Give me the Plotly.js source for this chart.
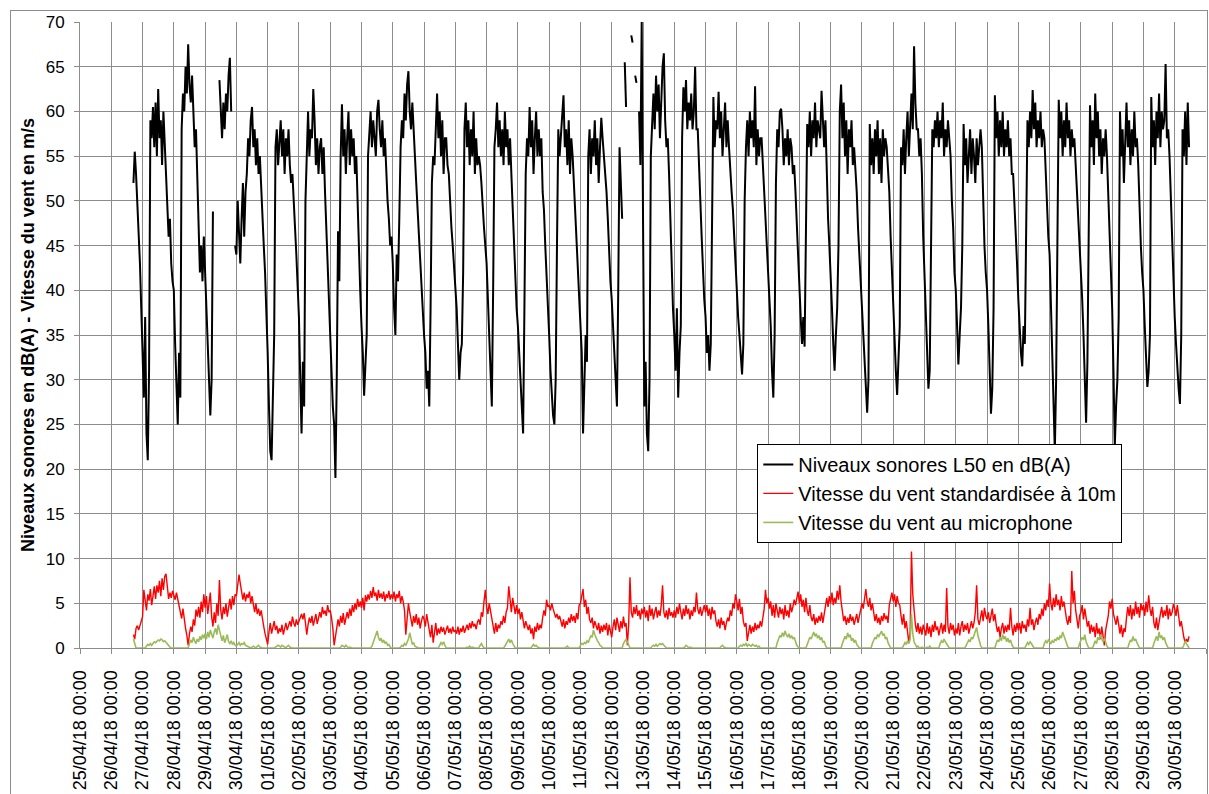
<!DOCTYPE html>
<html>
<head>
<meta charset="utf-8">
<script src="https://cdn.plot.ly/plotly-3.0.1.min.js"></script>
<style>
  html, body { margin: 0; padding: 0; background: #fff; }
  #wrap { position: relative; width: 1209px; height: 794px; overflow: hidden; }
  #chart { position: absolute; left: 0; top: 0; width: 1209px; height: 794px; }
  #frame { position: absolute; left: 10px; top: 10px; width: 1196px; height: 800px;
           border: 1px solid #8c8c8c; pointer-events: none; }
</style>
</head>
<body>
<div id="wrap"><div id="chart"></div><div id="frame"></div></div>
<script>
// ---- data: hourly readings, first value = 26/04/18 17:00 ----
const seriesStart = "2018-04-26T17:00:00Z";
const seriesNames = [
  "Niveaux sonores L50 en dB(A)",
  "Vitesse du vent standardisée à 10m",
  "Vitesse du vent au microphone"
];
const xTickFormat = "%d/%m/%y %H:%M";

// Niveaux sonores L50 en dB(A)
const l50 = [
  52,55.5,53,50,47,43,38,                                                            // 26/04 17-23h
  34,28,37,24,21,31,59,57,60.5,56,61,55,62.5,57,59,54,60,56,54,50,46,48,43,41,        // 27/04
  40,34,29,25,33,28,58,62,60,65,62,67.5,63,61,64,59,56,58,52,47,42,45,41,46,          // 28/04
  42,37,35,29,26,30,48.8,null,null,null,null,63.5,60,57,61,58,62,60,64,66,60,null,null,45, // 29/04
  44,50,47,43,48,52,46,51,53,57,55,59,60.5,56,58,54,57,53,55,51,47,45,42,38,          // 30/04
  33,27,22,21,29,35,56,58,54,57,59,55,58,53,57,55,58,54,52,53,49,47,44,41,            // 01/05
  37,30,24,32,27,50,56,60,55,58,57,62.5,59,54,57,53,56,57,53,56,51,47,42,38,          // 02/05
  36,32,27,25,19,30,46.6,41,55,60.8,55,58,53,57,60,54,58,55,57,53,55,50,44,40,        // 03/05
  36,33,28.2,31,35,55,57,60,56,59,57,55,60,61.3,58,56,59,55,57,53,50,48,45,46,        // 04/05
  43,38,35,44,41,48,56,59,57,62,59,63,64.5,60,58,61,57,55,52,49,46,44,40,38,          // 05/05
  35,33,29,31,27,38,52,55,54,58,62,57,60,55,59,53,57,57,54,53,49,47,45,43,            // 06/05
  40,38,34,30,33,34,42,58,61,56,59,54,58,55,60,53,57,54,55,54,52,49,47,45,            // 07/05
  43,39,35,31,27,40,56,58,61,56,59,55,58,54,60,56,58,54,57,53,49,45,41,38,            // 08/05
  36,33,29,27,24,38,53,57,55,60.5,56,59,53,57,60,55,58,55,57,51,49,45,42,39,          // 09/05
  35,31,28,26,25,30,45,58,55,57,60,61.8,56,58,54,59,53,57,55,52,49,46,43,40,          // 10/05
  37,33,24,29,35,32,55,58,53,57,55,59,54,57,52,56,59.3,57,55,54,51,48,44,41,          // 11/05
  39,36,33,30,27,40,56,52,48,null,65.5,60.5,null,null,null,68.5,67.7,null,64,63.2,null,60,54,70, // 12/05
  40,27,32,24,22,30,55,59,62,58,64,60,63,57,61,65,66.5,59,56,57,53,48,42,38,          // 13/05
  35,31,38,28,33,36,57,62.7,60,63.5,58,61,59,62,58,60,65,58,58,53,50,46,42,39,        // 14/05
  37,33,35,31,34,45,61.6,56,59,58,62.2,57,60,55,58,61,56,59,56,53,51,49,46,42,        // 15/05
  40,37,35,32,30.6,34,50,56,59,55,60,57,59,56,62.8,54,58,55,57,57,54,52,49,46,        // 16/05
  43,40,36,31,28,35,52,58,56,60,60.3,58,54,57,55,58,54,57,56,53,54,51,47,44,          // 17/05
  40,37,34,37,33.7,50,58.6,56,60,55,59,57,61,56,59,58,57,62.3,58,56,59,53,48,45,      // 18/05
  42,38,34,31,35,38,45,60,63,57,61,55,59,53,58,56,59,54,56,54,51,47,44,41,            // 19/05
  38,35,31,29,26.3,30,58.6,54,57,53,58,55,59,53,57,52,58,55,57,56,54,51,46,42,        // 20/05
  39,35,31,28.3,33,36,56,54,58,53,57,60,55,59,62,58,67.3,61,58,58,55,57,53,46,        // 21/05
  42,37,33,29,31,45,58,56,59,57,60,56,59,57,61,55,58,56,59,57,55,50,47,42,            // 22/05
  40,36,31.7,35,38,45,58.6,54,57,52,56,58,53,57,55,52,57,54,56,58,56,50,45,42,        // 23/05
  40,36,31,26.2,29,38,61.8,57,60,55,59,56,60,55,58,56,59,55,57,53,53,50,47,43,        // 24/05
  39,35,33,31.5,36,34,50,59,56,60,57,62.4,58,61,56,59,57,60,56,58,57,53,50,46,        // 25/05
  44,38,33,27,22,30,48,61.3,57,60,55,59,56,61,57,59,55,58,56,57,54,51,48,45,          // 26/05
  43,39,35,30,25.2,32,45,60.7,56,59,54,62,57,60,55,58,53,57,55,58,55,51,47,42,        // 27/05
  38,31,22.5,27,30,37,60,55,58,52,57,61,56,59,54,58,55,60,56,57,54,49,45,42,          // 28/05
  40,36,33,29.2,31,35,61.6,56,59,54,60,57,62,56,60,58,59,65.3,57,58,55,50,45,40,      // 29/05
  37,34,31,29,27.3,35,58,55,60,54,61,56                                               // 30/05 0-11h
];

// Vitesse du vent standardisée à 10m (m/s)
const windStd = [
  1.5,1.0,2.2,2.5,2.0,2.5,3.2,
  3.5,6.5,5.0,4.2,6.0,5.3,6.6,4.8,5.8,6.9,5.5,7.0,6.2,7.5,5.8,7.8,6.5,8.0,8.3,6.8,5.5,6.2,5.6,6.4,
  6.0,5.4,6.2,5.5,4.6,4.0,3.3,4.4,3.0,2.2,1.4,0.3,1.6,2.4,1.8,3.2,2.5,4.3,3.5,4.6,3.4,5.2,4.0,6.0,
  4.5,5.8,3.8,5.2,6.2,3.5,2.4,4.0,2.8,5.0,3.6,7.6,4.2,3.2,4.6,3.8,5.0,3.5,4.4,5.5,4.3,5.8,4.8,6.0,
  5.8,7.0,8.2,7.2,6.4,5.4,6.2,5.2,6.0,5.6,6.3,5.0,5.8,4.6,4.0,5.0,3.8,4.4,3.6,4.2,3.0,2.4,1.6,1.0,
  0.4,1.8,2.8,1.6,2.4,3.0,2.0,2.5,1.6,2.2,1.8,2.6,1.5,2.3,2.8,2.0,2.6,3.0,2.4,3.5,2.8,2.4,3.2,2.6,
  3.0,3.4,3.8,3.2,3.9,2.8,1.5,2.6,3.4,2.8,3.6,2.5,3.2,3.8,2.7,3.3,4.0,3.4,4.6,3.8,4.2,3.6,4.8,4.0,
  4.2,3.4,2.2,0.3,1.5,2.4,3.2,2.4,3.6,2.8,3.9,2.6,3.4,4.0,3.3,4.4,3.6,4.8,4.0,5.0,4.3,5.5,4.6,5.2,
  4.5,5.6,4.2,5.9,5.2,6.0,5.4,6.4,5.6,6.8,5.8,6.2,5.3,6.5,5.6,6.1,5.5,6.3,5.2,6.0,5.6,6.4,5.4,6.0,
  5.5,6.3,5.2,6.0,5.6,6.4,5.0,5.8,5.2,4.2,1.5,3.6,5.0,4.0,3.2,2.4,3.6,2.8,3.8,2.6,3.4,2.2,3.0,3.6,
  3.2,2.4,3.8,2.6,2.0,1.2,2.6,0.6,1.8,2.8,1.4,2.2,1.6,2.4,1.8,2.3,1.5,2.1,2.5,1.7,2.2,1.6,2.4,1.8,
  2.0,1.6,2.4,1.5,2.2,1.8,2.5,1.7,2.3,2.6,2.0,2.8,2.2,3.0,2.4,2.7,2.1,2.9,3.2,2.6,4.0,3.5,5.2,6.5,
  4.6,3.8,5.0,4.2,3.6,2.4,1.6,2.8,1.8,2.6,2.2,3.0,2.6,3.6,2.8,4.0,4.5,6.9,5.2,4.0,5.6,4.4,3.8,4.8,
  3.8,4.4,3.2,4.0,2.8,2.2,3.0,2.4,2.0,2.6,1.6,2.2,1.0,2.4,1.8,2.8,2.0,2.6,2.2,3.4,4.2,3.6,5.4,4.6,
  4.8,4.2,5.0,4.4,4.0,3.4,3.8,3.2,3.6,3.0,2.4,3.2,2.2,3.0,2.6,3.4,2.8,3.8,3.0,3.6,2.8,3.9,3.2,4.8,
  5.0,5.8,6.6,4.6,5.4,3.8,4.6,3.2,2.8,3.4,2.2,3.0,2.4,2.0,2.8,1.6,2.5,1.8,2.6,2.0,2.8,1.4,2.6,1.8,
  1.2,2.4,3.2,2.0,3.4,2.6,1.8,3.0,2.2,3.5,2.4,2.8,0.3,2.6,7.9,4.0,3.4,4.6,3.8,4.8,3.6,4.2,3.2,4.4,
  3.8,4.6,3.4,4.2,3.0,4.8,3.6,4.4,3.2,4.0,4.6,3.4,4.2,3.6,4.8,7.0,4.0,3.4,4.2,3.2,4.5,3.6,4.0,3.4,
  4.2,3.4,4.6,3.8,5.0,4.0,3.2,4.4,3.6,4.8,3.8,4.4,3.2,4.2,3.6,4.6,4.0,6.2,4.4,3.8,4.6,3.6,4.2,4.8,
  4.0,4.8,3.6,4.4,3.2,4.6,3.8,4.2,3.0,2.4,3.2,2.2,3.4,2.6,3.0,2.0,2.8,3.4,3.0,4.2,3.6,5.0,4.4,6.0,
  5.2,4.2,5.5,3.8,4.6,3.0,2.4,2.8,0.8,2.0,2.6,1.6,2.4,1.8,2.8,2.0,2.6,2.2,3.0,2.4,3.6,4.4,6.5,5.0,
  5.6,4.4,5.2,3.6,4.8,3.4,5.0,4.0,3.4,4.6,3.8,4.4,3.2,4.8,3.6,4.2,3.4,5.0,4.0,4.6,5.4,4.8,5.8,6.3,
  5.0,6.0,4.6,5.4,4.0,5.6,4.2,3.6,4.8,3.4,3.0,3.8,2.6,3.4,2.8,3.6,3.0,4.0,2.8,3.6,4.4,5.6,4.6,5.8,
  5.0,6.2,4.8,5.6,5.0,6.4,5.4,7.0,5.2,3.8,3.0,3.6,2.6,3.4,2.8,3.8,3.0,3.5,2.6,3.2,3.8,2.8,3.6,4.4,
  5.0,4.4,5.8,6.6,5.2,4.6,5.6,4.2,5.0,3.6,3.0,3.8,2.8,3.4,2.6,3.6,3.0,3.9,3.2,3.6,2.8,4.8,5.6,6.2,
  5.2,6.0,4.6,5.8,5.0,4.8,3.6,2.6,3.8,2.2,3.0,1.6,0.6,1.8,10.8,6.0,4.2,2.6,1.8,2.8,1.6,2.4,1.5,2.6,
  2.0,1.4,2.8,1.6,2.4,1.2,2.6,1.8,3.0,2.0,2.4,1.4,2.2,2.8,1.6,2.6,1.8,6.7,2.4,1.6,2.8,2.0,2.6,1.4,
  2.2,1.6,2.8,1.4,2.4,3.0,1.8,2.6,2.0,2.8,1.6,2.4,3.0,2.2,2.8,4.0,7.0,3.2,2.6,3.4,4.2,3.0,4.5,3.6,
  3.2,4.0,2.8,3.6,4.4,3.0,3.8,2.6,1.8,2.4,1.2,2.2,2.8,1.6,2.5,1.8,2.6,2.0,4.5,2.4,1.4,2.6,1.8,2.8,
  2.0,2.8,1.6,3.0,2.2,2.6,1.8,3.2,2.4,4.5,2.6,3.2,2.0,2.8,3.4,2.6,3.8,3.2,4.4,3.6,5.0,4.2,5.4,4.6,
  7.2,5.0,4.2,5.6,4.6,6.0,4.8,5.4,4.2,5.8,4.6,5.2,4.0,3.2,2.6,3.6,2.8,8.6,5.0,6.4,4.2,3.0,2.2,3.6,
  4.0,4.8,3.2,4.4,3.6,2.4,3.0,1.6,2.6,1.8,2.4,1.2,2.8,1.6,2.2,1.0,2.4,1.4,0.3,2.0,2.8,3.6,5.2,4.4,
  5.5,3.8,3.2,2.6,3.6,2.8,1.6,2.6,1.2,2.2,1.8,3.4,4.6,3.6,4.8,3.2,4.4,3.6,5.2,3.8,4.6,3.4,5.0,4.2,
  4.8,3.6,5.2,4.0,5.9,4.4,3.6,4.6,2.8,2.2,3.4,2.0,3.2,3.8,4.6,3.4,4.2,3.6,4.8,3.2,4.4,3.6,4.0,4.9,
  4.4,3.6,4.8,3.2,2.4,3.0,2.0,1.2,0.6,1.0,0.7,1.3
];

// Vitesse du vent au microphone (m/s)
const windMic = [
  1.0,0.4,0,0,0,0,0,
  0,0,0,0.2,0.4,0.3,0.5,0.3,0.5,0.7,0.6,0.8,0.9,0.8,1.0,0.9,0.7,0.8,0.6,0.4,0.3,0.1,0,0,
  0,0,0,0,0,0,0,0,0,0,0,0,0.5,0.9,0.6,1.2,0.8,0.5,1.0,0.7,1.3,0.9,1.5,1.1,
  1.6,1.0,1.8,1.2,2.0,1.4,1.1,1.8,2.2,1.5,2.6,2.0,1.2,0.8,1.4,0.6,1.0,1.5,0.7,0.5,0.8,0.4,0.6,0.3,
  0.2,0.4,0.6,0.3,0.5,0.4,0.6,0.3,0.2,0.1,0,0,0.1,0.2,0.1,0,0.2,0.3,0.1,0,0,0,0,0,
  0,0,0,0,0,0,0.1,0.2,0.3,0.2,0.1,0.3,0.2,0.1,0,0.2,0.3,0.1,0,0,0,0,0,0,
  0,0,0,0,0,0,0,0,0,0,0,0,0,0,0,0,0,0,0,0,0,0,0,0,
  0,0,0,0,0,0,0,0,0.1,0.3,0.2,0.1,0.3,0.2,0,0.1,0,0,0,0,0,0,0,0,
  0,0,0,0,0,0,0,0,0.2,0.6,1.0,1.4,1.9,1.2,0.8,1.1,0.6,0.9,0.5,0.7,0.3,0.4,0.1,0,
  0,0,0,0,0,0,0.1,0.3,0.2,0.5,0.3,0.6,1.0,1.7,0.9,0.4,0.6,0.2,0.1,0,0,0,0,0,
  0,0,0,0,0,0,0,0,0,0,0,0,0.3,0.6,0.4,0.7,0.3,0,0,0,0,0,0,0,
  0,0,0,0,0,0,0,0,0,0.1,0,0.2,0,0.1,0,0,0,0,0,0.3,0.5,0.2,0,0,
  0,0,0,0,0,0,0,0,0,0,0,0,0,0,0.2,0.5,0.8,1.0,0.6,0.9,0.5,0.2,0,0,
  0,0,0,0,0,0,0,0,0,0,0,0.2,0.4,0.2,0.3,0.1,0,0,0,0,0,0,0,0,
  0,0,0,0,0,0,0,0,0,0,0,0,0,0.1,0.2,0,0,0,0,0,0,0,0,0,
  0.3,0.5,0.4,0.6,0.5,0.8,0.6,1.0,1.4,1.2,2.0,1.5,1.1,0.8,0.6,0.3,0.2,0,0,0,0,0,0,0,
  0,0,0,0,0,0,0,0,0,0.5,0.8,1.0,0.7,0.4,0,0,0,0,0,0,0,0,0,0,
  0,0,0,0,0,0,0,0.2,0.3,0.2,0.4,0.2,0.3,0.5,0.4,0.5,0.3,0.1,0,0,0,0,0,0,
  0,0,0,0,0,0,0,0,0.1,0.3,0.2,0,0.1,0,0,0,0,0,0,0,0,0,0,0,
  0,0,0,0,0,0,0,0,0,0,0,0,0.2,0.3,0.1,0,0,0,0,0,0,0,0,0,
  0,0,0.2,0.3,0.2,0.4,0.3,0.5,0.2,0.4,0.3,0.2,0.4,0.3,0.2,0.3,0.1,0.2,0,0,0,0,0,0,
  0,0,0,0,0,0,0,0.6,1.0,1.4,1.2,1.7,1.3,1.9,1.5,1.2,1.6,1.1,1.4,1.0,1.2,0.6,0.3,0.1,
  0,0,0,0,0,0,0.4,0.8,1.2,1.0,1.5,1.8,1.3,1.6,1.1,1.4,0.9,1.2,0.6,0.8,0.3,0,0,0,
  0,0,0,0,0,0,0,0,0,0.5,0.9,1.3,1.0,1.7,1.2,1.5,0.8,1.1,0.6,0.9,0.4,0.2,0,0,
  0,0,0,0,0,0,0,0,0.5,0.8,1.2,1.0,1.5,1.3,1.7,1.9,1.4,1.6,1.0,1.2,0.6,0.3,0,0,
  0,0,0,0,0,0,0,0,0.3,0.6,0.4,0.8,0.5,1.0,3.8,1.6,0.7,0.3,0.1,0.2,0,0,0.1,0,
  0,0,0.1,0,0.2,0,0,0,0,0,0,0,0.5,0.8,0.6,1.0,0.7,0.5,0.2,0,0,0,0,0,
  0,0,0,0,0,0,0,0,0.3,0.6,0.9,0.7,1.2,1.0,1.5,1.8,2.3,1.4,0.8,0.3,0,0,0,0,
  0,0,0,0,0,0,0,0.5,0.9,0.7,1.2,0.8,1.5,1.0,1.3,0.7,1.1,0.6,0.9,0.4,0.1,0,0,0,
  0,0,0,0,0,0,0.3,0.6,0.4,0.7,0.5,0.3,0,0,0,0,0,0,0,0,0.5,0.8,0.6,0.9,
  0.7,0.5,0.8,0.6,1.0,0.8,1.2,0.9,1.4,1.1,1.8,1.3,0.9,0.4,0.1,0,0,0,0,0,0,0,0,0.5,
  0.8,1.2,0.9,1.5,0.7,0.3,0,0,0,0,0.4,0.8,0.5,1.2,0.9,1.5,1.0,0.7,1.1,0.5,0.2,0,0,0,
  0,0,0,0,0,0,0,0,0,0,0,0,0,0.5,0.9,0.7,1.3,0.8,1.0,0.6,0.3,0,0,0,
  0,0,0,0,0,0,0,0,0.5,0.9,1.3,0.8,1.8,1.1,1.4,0.9,1.2,0.6,0.3,0,0,0,0,0,
  0,0,0,0,0,0,0,0.3,0.8,0.5,0.3,0
];

// ---- time axis built from the start stamp (one reading per hour) ----
function pad(n) { return (n < 10 ? "0" : "") + n; }
function hourlyStamps(startIso, count) {
  const t0 = Date.parse(startIso);
  const out = [];
  for (let i = 0; i < count; i++) {
    const d = new Date(t0 + i * 3600000);
    out.push(d.getUTCFullYear() + "-" + pad(d.getUTCMonth() + 1) + "-" + pad(d.getUTCDate()) +
             " " + pad(d.getUTCHours()) + ":00");
  }
  return out;
}

const FONT = '"Liberation Sans", Arial, sans-serif';
const traces = [
  { x: hourlyStamps(seriesStart, l50.length), y: l50, name: seriesNames[0],
    type: "scatter", mode: "lines", line: { color: "#000000", width: 2 }, connectgaps: false },
  { x: hourlyStamps(seriesStart, windStd.length), y: windStd, name: seriesNames[1],
    type: "scatter", mode: "lines", line: { color: "#ff0000", width: 1.4 } },
  { x: hourlyStamps(seriesStart, windMic.length), y: windMic, name: seriesNames[2],
    type: "scatter", mode: "lines", line: { color: "#9bbb59", width: 1.6 } }
];

const layout = {
  width: 1209, height: 794,
  margin: { l: 80, r: 3, t: 22, b: 146 },
  paper_bgcolor: "#ffffff", plot_bgcolor: "#ffffff",
  font: { family: FONT, color: "#000000" },
  showlegend: true,
  legend: {
    x: 0.6015, y: 0.326, xanchor: "left", yanchor: "top",
    bgcolor: "#ffffff", bordercolor: "#000000", borderwidth: 1,
    font: { family: FONT, size: 20, color: "#000000" },
    tracegroupgap: 0
  },
  xaxis: {
    type: "date",
    range: ["2018-04-25 00:00", "2018-05-31 00:00"],
    tick0: "2018-04-25 00:00", dtick: 86400000,
    tickformat: xTickFormat, tickangle: -90,
    tickfont: { family: FONT, size: 18, color: "#000000" },
    ticks: "outside", ticklen: 5, tickcolor: "#8c8c8c",
    ticklabelstandoff: 9,
    showgrid: true, gridcolor: "#8c8c8c", gridwidth: 1,
    showline: true, linecolor: "#8c8c8c", linewidth: 1, mirror: false,
    zeroline: false, fixedrange: true
  },
  yaxis: {
    range: [0, 70], dtick: 5, tick0: 0,
    tickfont: { family: FONT, size: 17, color: "#000000" },
    ticks: "outside", ticklen: 5, tickcolor: "#8c8c8c",
    ticklabelstandoff: 6,
    showgrid: true, gridcolor: "#8c8c8c", gridwidth: 1,
    showline: true, linecolor: "#8c8c8c", linewidth: 1,
    zeroline: false, fixedrange: true,
    title: { text: "Niveaux sonores en dB(A) - Vitesse du vent en m/s",
             font: { family: FONT, size: 18, color: "#000000", weight: "bold" },
             standoff: 6 }
  }
};

Plotly.newPlot("chart", traces, layout, { displayModeBar: false, staticPlot: true });
</script>
</body>
</html>
